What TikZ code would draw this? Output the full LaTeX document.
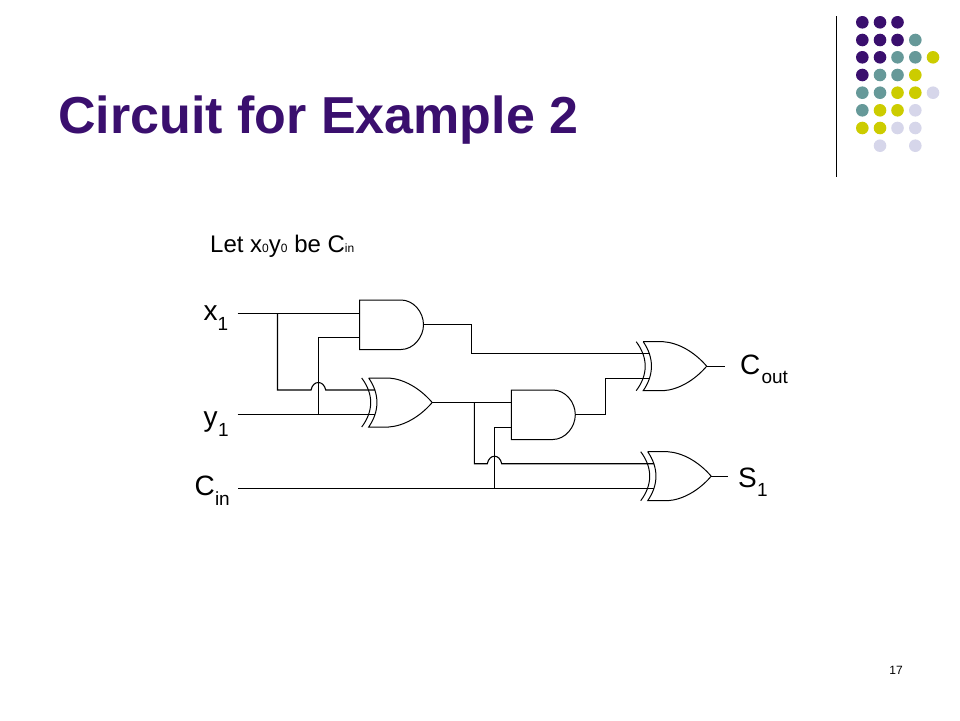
\documentclass[tikz,border=0pt]{standalone}
\usepackage{fontspec}
\usetikzlibrary{calc}
\setmainfont{Liberation Sans}
\definecolor{dpurple}{HTML}{3A0F6E}
\definecolor{dteal}{HTML}{669999}
\definecolor{dyellow}{HTML}{CCCC00}
\definecolor{dlav}{HTML}{D6D6EA}
\tikzset{
  wire/.style={draw=black,line width=1.1pt,line join=miter},
  gateline/.style={draw=black,line width=1pt},
  lbl/.style={anchor=base west,inner sep=0pt,outer sep=0pt,font=\fontsize{28}{28}\selectfont},
  sublbl/.style={anchor=base west,inner sep=0pt,outer sep=0pt,font=\fontsize{19}{19}\selectfont},
  dot/.style={circle,inner sep=0pt,minimum size=12.6pt,draw=none}
}
% AND gate: left x, top y
\newcommand{\myand}[3]{%
  \draw[gateline] (#2+41.5,#3) -- (#2,#3) -- (#2,#3+49.5) -- (#2+41.5,#3+49.5)
    .. controls (#2+54,#3+49.5) and (#2+64,#3+37) .. (#2+64,#3+24.75)
    .. controls (#2+64,#3+12) and (#2+54,#3) .. (#2+41.5,#3);
  \coordinate (#1-o) at (#2+64,#3+24.75);
}
% XOR gate: outer arc left x, top y
\newcommand{\myxor}[3]{%
  \draw[gateline] (#2,#3) .. controls (#2+12,#3+16) and (#2+12,#3+33) .. (#2,#3+49);
  \draw[gateline] (#2+7,#3) .. controls (#2+18,#3+16) and (#2+18,#3+33) .. (#2+7,#3+49)
    -- (#2+27,#3+49) .. controls (#2+42,#3+48) and (#2+58,#3+39) .. (#2+70.5,#3+24.5)
    .. controls (#2+58,#3+10) and (#2+42,#3+1) .. (#2+27,#3) -- (#2+7,#3);
  \coordinate (#1-o) at (#2+70.5,#3+24.5);
  \coordinate (#1-a) at (#2+13.5,#3+12);
  \coordinate (#1-b) at (#2+13.5,#3+36.5);
}
\begin{document}
\begin{tikzpicture}[x=1pt,y=-1pt]
\useasboundingbox (0,0) rectangle (960,720);
% decoration
\draw[black,line width=1pt] (836.5,16) -- (836.5,177);
\foreach \cx/\cy/\cc in {
 862.3/22.3/dpurple,880/22.3/dpurple,897.5/22.3/dpurple,
 862.3/40/dpurple,880/40/dpurple,897.5/40/dpurple,915.3/40/dteal,
 862.3/57.3/dpurple,880/57.3/dpurple,897.5/57.3/dteal,915.3/57.3/dteal,933/57.3/dyellow,
 862.3/75/dpurple,880/75/dteal,897.5/75/dteal,915.3/75/dyellow,
 862.3/92.7/dteal,880/92.7/dteal,897.5/92.7/dyellow,915.3/92.7/dyellow,933/92.7/dlav,
 862.3/110.3/dteal,880/110.3/dyellow,897.5/110.3/dyellow,915.3/110.3/dlav,
 862.3/128/dyellow,880/128/dyellow,897.5/128/dlav,915.3/128/dlav,
 880/145.7/dlav,915.3/145.7/dlav}
  \node[dot,fill=\cc] (d\cx-\cy) at (\cx,\cy) {};
% texts
\node[anchor=base west,inner sep=0pt,text=dpurple,font=\fontsize{52}{52}\selectfont\bfseries] (title) at (58,133) {Circuit for Example 2};
\node[anchor=base west,inner sep=0pt,font=\fontsize{24}{26}\selectfont] (note) at (210,252) {Let x{\fontsize{12}{13}\selectfont 0}y{\fontsize{12}{13}\selectfont 0} be C{\fontsize{12}{13}\selectfont in}};
\node[anchor=base,inner sep=0pt,font=\fontsize{12}{12}\selectfont] (page) at (896,674) {17};
\node[lbl] (x1) at (203.5,320.7) {x};
\node[sublbl] (x1s) at (217.5,330.7) {1};
\node[lbl] (y1) at (203.5,426.7) {y};
\node[sublbl] (y1s) at (218,436) {1};
\node[lbl] (cin) at (194.5,495) {C};
\node[sublbl] (cins) at (215,505.7) {in};
\node[lbl] (cout) at (740,374) {C};
\node[sublbl] (couts) at (761.5,383.3) {out};
\node[lbl] (s1) at (738,487.7) {S};
\node[sublbl] (s1s) at (757,496.7) {1};
% gates
\myand{aa}{359.5}{300}
\myand{ab}{511.3}{390}
\myxor{xa}{361.7}{378}
\myxor{xb}{636.2}{341.7}
\myxor{xc}{640.7}{451.7}
% pins and junctions
\coordinate (x1start) at (237.5,313.3);
\coordinate (aaa) at (359.5,313.3);
\coordinate (j1) at (277.5,313.3);
\coordinate (j1b) at (277.5,390);
\coordinate (h1a) at (311,390);
\coordinate (h1b) at (325.7,390);
\coordinate (y1start) at (237.5,414.5);
\coordinate (j2) at (318.3,414.5);
\coordinate (j2b) at (318.3,337.3);
\coordinate (aab) at (359.5,337.3);
\coordinate (abA) at (511.3,402.5);
\coordinate (abB) at (511.3,427.3);
\coordinate (j3) at (474.3,402.5);
\coordinate (j3b) at (474.3,463.7);
\coordinate (h2a) at (487.3,463.7);
\coordinate (h2b) at (501.7,463.7);
\coordinate (cstart) at (238.3,488.2);
\coordinate (j4) at (494.3,488.2);
\coordinate (j4b) at (494.3,427.3);
\coordinate (coutend) at (725,366.2);
\coordinate (s1end) at (728,476.2);
\coordinate (k1) at (471.7,353.7);
\coordinate (k2) at (605.3,378.2);
% wires
\draw[wire] (x1start) -- (j1) -- (aaa);
\draw[wire] (j1) -- (j1b) -- (h1a) .. controls ($(h1a)+(2,-10)$) and ($(h1b)+(-2,-10)$) .. (h1b) -- (xa-a);
\draw[wire] (y1start) -- (j2) -- (xa-b);
\draw[wire] (j2) -- (j2b) -- (aab);
\draw[wire] (aa-o) -| (k1) -- (xb-a);
\draw[wire] (xa-o) -- (j3) -- (abA);
\draw[wire] (j3) -- (j3b) -- (h2a) .. controls ($(h2a)+(2,-10)$) and ($(h2b)+(-2,-10)$) .. (h2b) -- (xc-a);
\draw[wire] (cstart) -- (j4) -- (xc-b);
\draw[wire] (j4) -- (j4b) -- (abB);
\draw[wire] (ab-o) -| (k2) -- (xb-b);
\draw[wire] (xb-o) -- (coutend);
\draw[wire] (xc-o) -- (s1end);
\end{tikzpicture}
\end{document}
